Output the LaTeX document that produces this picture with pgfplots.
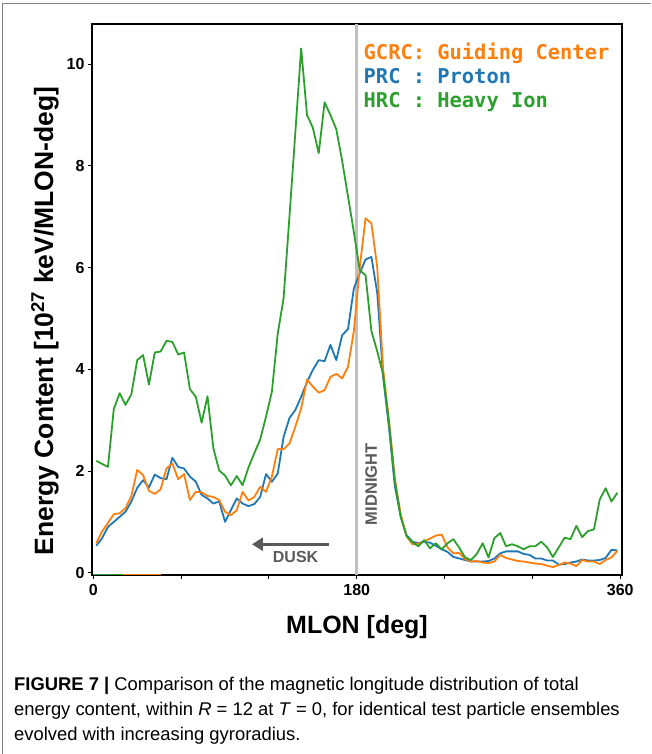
\documentclass[border=0pt]{standalone}
\usepackage{fontspec}
\setmainfont{Liberation Sans}
\newfontfamily\monofont{DejaVu Sans Mono}
\newfontfamily\capfont{Liberation Sans}
\usepackage{pgfplots}
\pgfplotsset{compat=1.18}
\usetikzlibrary{arrows.meta}

\definecolor{tabblue}{HTML}{1F77B4}
\definecolor{taborange}{HTML}{FF7F0E}
\definecolor{tabgreen}{HTML}{2CA02C}
\definecolor{midgray}{RGB}{192,192,192}
\definecolor{txtgray}{RGB}{90,90,90}
\definecolor{framegray}{RGB}{130,130,130}

% MLON bins (4 deg), energy content in 1e27 keV/MLON-deg
\pgfplotstableread{
x    prc   gcrc  hrc
2    0.53  0.58  2.20
6    0.68  0.81  2.14
10   0.90  0.98  2.08
14   1.00  1.15  3.22
18   1.10  1.17  3.53
22   1.20  1.27  3.30
26   1.40  1.51  3.51
30   1.67  2.02  4.18
34   1.82  1.92  4.28
38   1.68  1.61  3.70
42   1.93  1.55  4.33
46   1.86  1.64  4.35
50   1.84  2.05  4.56
54   2.26  2.15  4.54
58   2.08  1.84  4.29
62   2.05  1.94  4.33
66   1.89  1.43  3.61
70   1.79  1.59  3.46
74   1.53  1.58  2.95
78   1.46  1.51  3.47
82   1.36  1.49  2.45
86   1.40  1.43  2.01
90   1.00  1.20  1.91
94   1.23  1.13  1.72
98   1.46  1.23  1.90
102  1.36  1.59  1.72
106  1.31  1.42  2.07
110  1.35  1.49  2.35
114  1.49  1.69  2.62
118  1.94  1.59  3.07
122  1.79  1.89  3.56
126  1.95  2.43  4.70
130  2.67  2.43  5.40
134  3.04  2.54  7.00
138  3.20  2.87  8.65
142  3.46  3.23  10.31
146  3.75  3.80  9.00
150  3.99  3.66  8.75
154  4.18  3.54  8.25
158  4.16  3.59  9.25
162  4.48  3.85  9.00
166  4.18  3.91  8.72
170  4.67  3.82  8.10
174  4.79  4.05  7.40
178  5.59  4.75  6.70
182  5.89  6.00  5.95
186  6.16  6.97  5.85
190  6.21  6.87  4.75
194  5.50  6.00  4.35
198  3.85  4.00  3.90
202  2.85  3.00  2.95
206  1.70  1.85  1.80
210  1.10  1.15  1.10
214  0.74  0.72  0.72
218  0.61  0.56  0.60
222  0.58  0.57  0.52
226  0.61  0.62  0.64
230  0.59  0.67  0.48
234  0.53  0.73  0.58
238  0.46  0.75  0.46
242  0.41  0.50  0.58
246  0.31  0.38  0.66
250  0.28  0.39  0.49
254  0.25  0.27  0.30
258  0.22  0.22  0.25
262  0.22  0.23  0.37
266  0.22  0.20  0.58
270  0.23  0.19  0.30
274  0.28  0.22  0.68
278  0.38  0.35  0.78
282  0.42  0.29  0.52
286  0.42  0.26  0.56
290  0.42  0.23  0.52
294  0.37  0.22  0.46
298  0.35  0.20  0.52
302  0.28  0.18  0.52
306  0.28  0.17  0.61
310  0.24  0.14  0.50
314  0.24  0.11  0.31
318  0.16  0.15  0.50
322  0.17  0.20  0.69
326  0.20  0.18  0.66
330  0.22  0.13  0.92
334  0.26  0.25  0.70
338  0.24  0.22  0.82
342  0.24  0.22  0.85
346  0.25  0.17  1.44
350  0.29  0.25  1.66
354  0.45  0.30  1.40
358  0.44  0.43  1.57
}\energy

\begin{document}
\begin{tikzpicture}
\path[use as bounding box] (0pt,0pt) rectangle (651pt,-754pt);
\draw[framegray, line width=1pt] (2.7pt,-754pt) -- (2.7pt,-4pt) -- (651pt,-4pt);

\begin{axis}[
    at={(92pt,-575pt)}, anchor=south west,
    scale only axis, width=530pt, height=551pt,
    xmin=-0.9, xmax=361.2,
    ymin=-0.045, ymax=10.79,
    xtick={0,60,...,360},
    xticklabels={0,,,180,,,360},
    ytick={0,2,4,6,8,10},
    tick pos=left,
    tick align=outside,
    major tick length=4pt,
    tick style={black, line width=1pt},
    axis line style={black, line width=1.3pt},
    ticklabel style={font=\fontsize{16}{16}\selectfont\bfseries},
    xticklabel style={yshift=-2pt},
    /pgf/number format/assume math mode=true,
    xlabel={MLON [deg]},
    ylabel={Energy Content [10\textsuperscript{27} keV/MLON-deg]},
    xlabel style={font=\fontsize{25}{25}\selectfont\bfseries,
        at={(axis description cs:0.5,-0.0944)}, anchor=center},
    ylabel style={font=\fontsize{26.5}{26.5}\selectfont\bfseries,
        at={(axis description cs:-0.0887,0.461)}, anchor=center},
    every axis plot/.append style={line width=1.8pt, line join=round},
]
\addplot[midgray, line width=2.6pt] coordinates {(180,-0.045) (180,10.79)};
\addplot[tabgreen, line width=1.2pt] coordinates {(0,-0.03) (20,-0.03)};
\addplot[taborange, line width=1.2pt] coordinates {(20,-0.03) (46,-0.03)};

\addplot[tabblue]   table[x=x, y=prc]  {\energy};
\addplot[taborange] table[x=x, y=gcrc] {\energy};
\addplot[tabgreen]  table[x=x, y=hrc]  {\energy};

\node[rotate=90, text=txtgray, font=\fontsize{16.5}{16.5}\selectfont\bfseries]
    at (axis cs:189.8,1.74) {MIDNIGHT};
\node[text=txtgray, font=\fontsize{16}{16}\selectfont\bfseries]
    at (axis cs:138.2,0.31) {DUSK};
\draw[txtgray, line width=3pt, -{Triangle[length=11pt, width=13pt]}]
    (axis cs:160.7,0.56) -- (axis cs:108.4,0.56);

\node[anchor=base west, inner sep=0pt, text=taborange, font=\monofont\bfseries\fontsize{20.4}{20.4}\selectfont]
    at (axis cs:184.6,10.10) {GCRC: Guiding Center};
\node[anchor=base west, inner sep=0pt, text=tabblue, font=\monofont\bfseries\fontsize{20.4}{20.4}\selectfont]
    at (axis cs:184.6,9.62) {PRC : Proton};
\node[anchor=base west, inner sep=0pt, text=tabgreen, font=\monofont\bfseries\fontsize{20.4}{20.4}\selectfont]
    at (axis cs:184.6,9.14) {HRC : Heavy Ion};
\end{axis}

\begin{scope}[font=\capfont\fontsize{18.4}{18.4}\selectfont]
\node[anchor=base west, inner sep=0pt] at (14pt,-690pt)
    {\textbf{FIGURE 7 |} Comparison of the magnetic longitude distribution of total};
\node[anchor=base west, inner sep=0pt] at (14pt,-715pt)
    {energy content, within \textit{R} = 12 at \textit{T} = 0, for identical test particle ensembles};
\node[anchor=base west, inner sep=0pt] at (14pt,-740pt)
    {evolved with increasing gyroradius.};
\end{scope}
\end{tikzpicture}
\end{document}
